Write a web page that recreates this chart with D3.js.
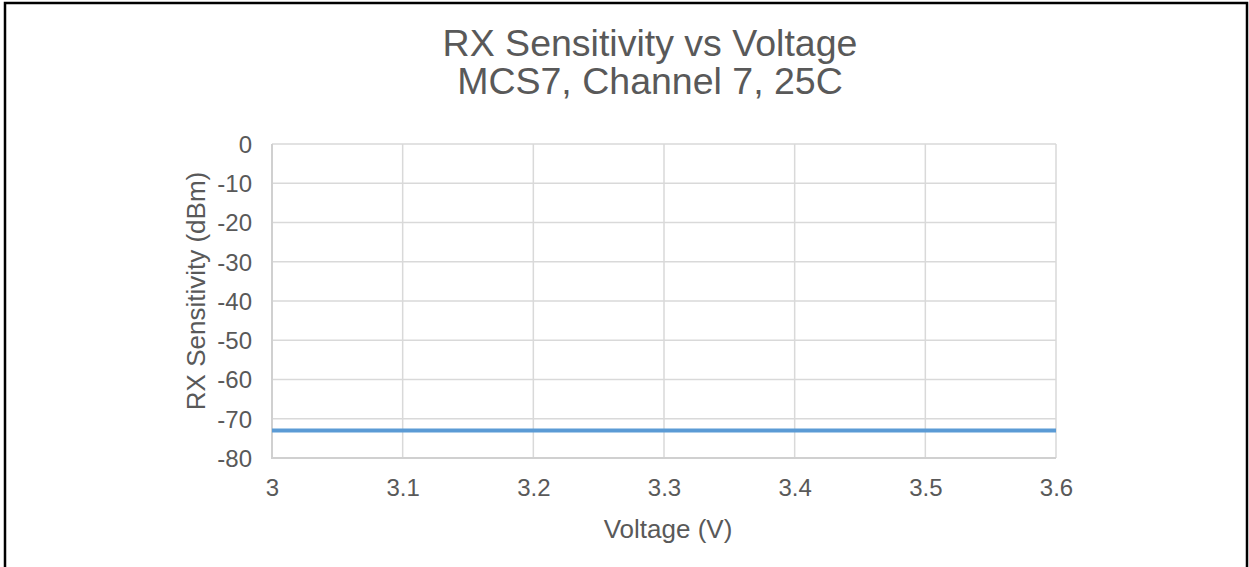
<!DOCTYPE html>
<html>
<head>
<meta charset="utf-8">
<script src="https://cdn.jsdelivr.net/npm/d3@7"></script>
<style>
  html, body { margin: 0; padding: 0; background: #fff; }
  svg { display: block; }
  text { font-family: "Liberation Sans", Arial, sans-serif; fill: #595959; }
</style>
</head>
<body>
<svg id="chart" width="1249" height="567"></svg>
<script>
// RX sensitivity measured at each supply voltage
const voltages = [3.0, 3.1, 3.2, 3.3, 3.4, 3.5, 3.6];
const sensitivity = [-73, -73, -73, -73, -73, -73, -73];
const xTicks = [3, 3.1, 3.2, 3.3, 3.4, 3.5, 3.6];
const yTicks = [0, -10, -20, -30, -40, -50, -60, -70, -80];
const titleLines = ["RX Sensitivity vs Voltage", "MCS7, Channel 7, 25C"];

const svg = d3.select("#chart");
const plot = { left: 272, right: 1056, top: 144, bottom: 458 };

const x = d3.scaleLinear().domain([3, 3.6]).range([plot.left, plot.right]);
const y = d3.scaleLinear().domain([-80, 0]).range([plot.bottom, plot.top]);

// outer frame
svg.append("rect")
  .attr("x", 5).attr("y", 3)
  .attr("width", 1242).attr("height", 620)
  .attr("fill", "none").attr("stroke", "#000").attr("stroke-width", 2.5);

// title
svg.append("g").selectAll("text").data(titleLines).join("text")
  .attr("x", 650).attr("y", (d, i) => 56 + i * 38)
  .attr("text-anchor", "middle")
  .style("font-size", "37.5px")
  .text(d => d);

// gridlines
const grid = svg.append("g").attr("stroke", "#d9d9d9").attr("stroke-width", 1.5);
grid.selectAll(".h").data(yTicks).join("line")
  .attr("x1", plot.left).attr("x2", plot.right)
  .attr("y1", d => y(d)).attr("y2", d => y(d));
grid.selectAll(".v").data(xTicks).join("line")
  .attr("x1", d => x(d)).attr("x2", d => x(d))
  .attr("y1", plot.top).attr("y2", plot.bottom);
// slightly stronger left and bottom edges
svg.append("path")
  .attr("d", `M${plot.left},${plot.top}V${plot.bottom}H${plot.right}`)
  .attr("fill", "none").attr("stroke", "#d0d0d0").attr("stroke-width", 2);

// axes (labels only), hyphen-minus for negatives
const fmt = d => String(d);
const yAxis = svg.append("g")
  .attr("transform", `translate(${plot.left - 20},0)`)
  .call(d3.axisLeft(y).tickValues(yTicks).tickSize(0).tickPadding(0).tickFormat(fmt));
yAxis.select(".domain").remove();
yAxis.selectAll("text").style("font-size", "24px").attr("dy", "0.35em").attr("fill", "#595959")
  .style("font-family", "'Liberation Sans', Arial, sans-serif");

const xAxis = svg.append("g")
  .attr("transform", `translate(0,${plot.bottom + 38})`)
  .call(d3.axisBottom(x).tickValues(xTicks).tickSize(0).tickPadding(0).tickFormat(fmt));
xAxis.select(".domain").remove();
xAxis.selectAll("text").style("font-size", "24px").attr("dy", "0").attr("fill", "#595959")
  .style("font-family", "'Liberation Sans', Arial, sans-serif");

// axis titles
svg.append("text")
  .attr("x", 668).attr("y", 538)
  .attr("text-anchor", "middle")
  .style("font-size", "26px")
  .text("Voltage (V)");

svg.append("text")
  .attr("transform", "translate(205,291) rotate(-90)")
  .attr("text-anchor", "middle")
  .style("font-size", "26px")
  .text("RX Sensitivity (dBm)");

// series line
const line = d3.line().x((d, i) => x(voltages[i])).y(d => y(d));
svg.append("path")
  .datum(sensitivity)
  .attr("d", line)
  .attr("fill", "none")
  .attr("stroke", "#5b9bd5")
  .attr("stroke-width", 4);
</script>
</body>
</html>
